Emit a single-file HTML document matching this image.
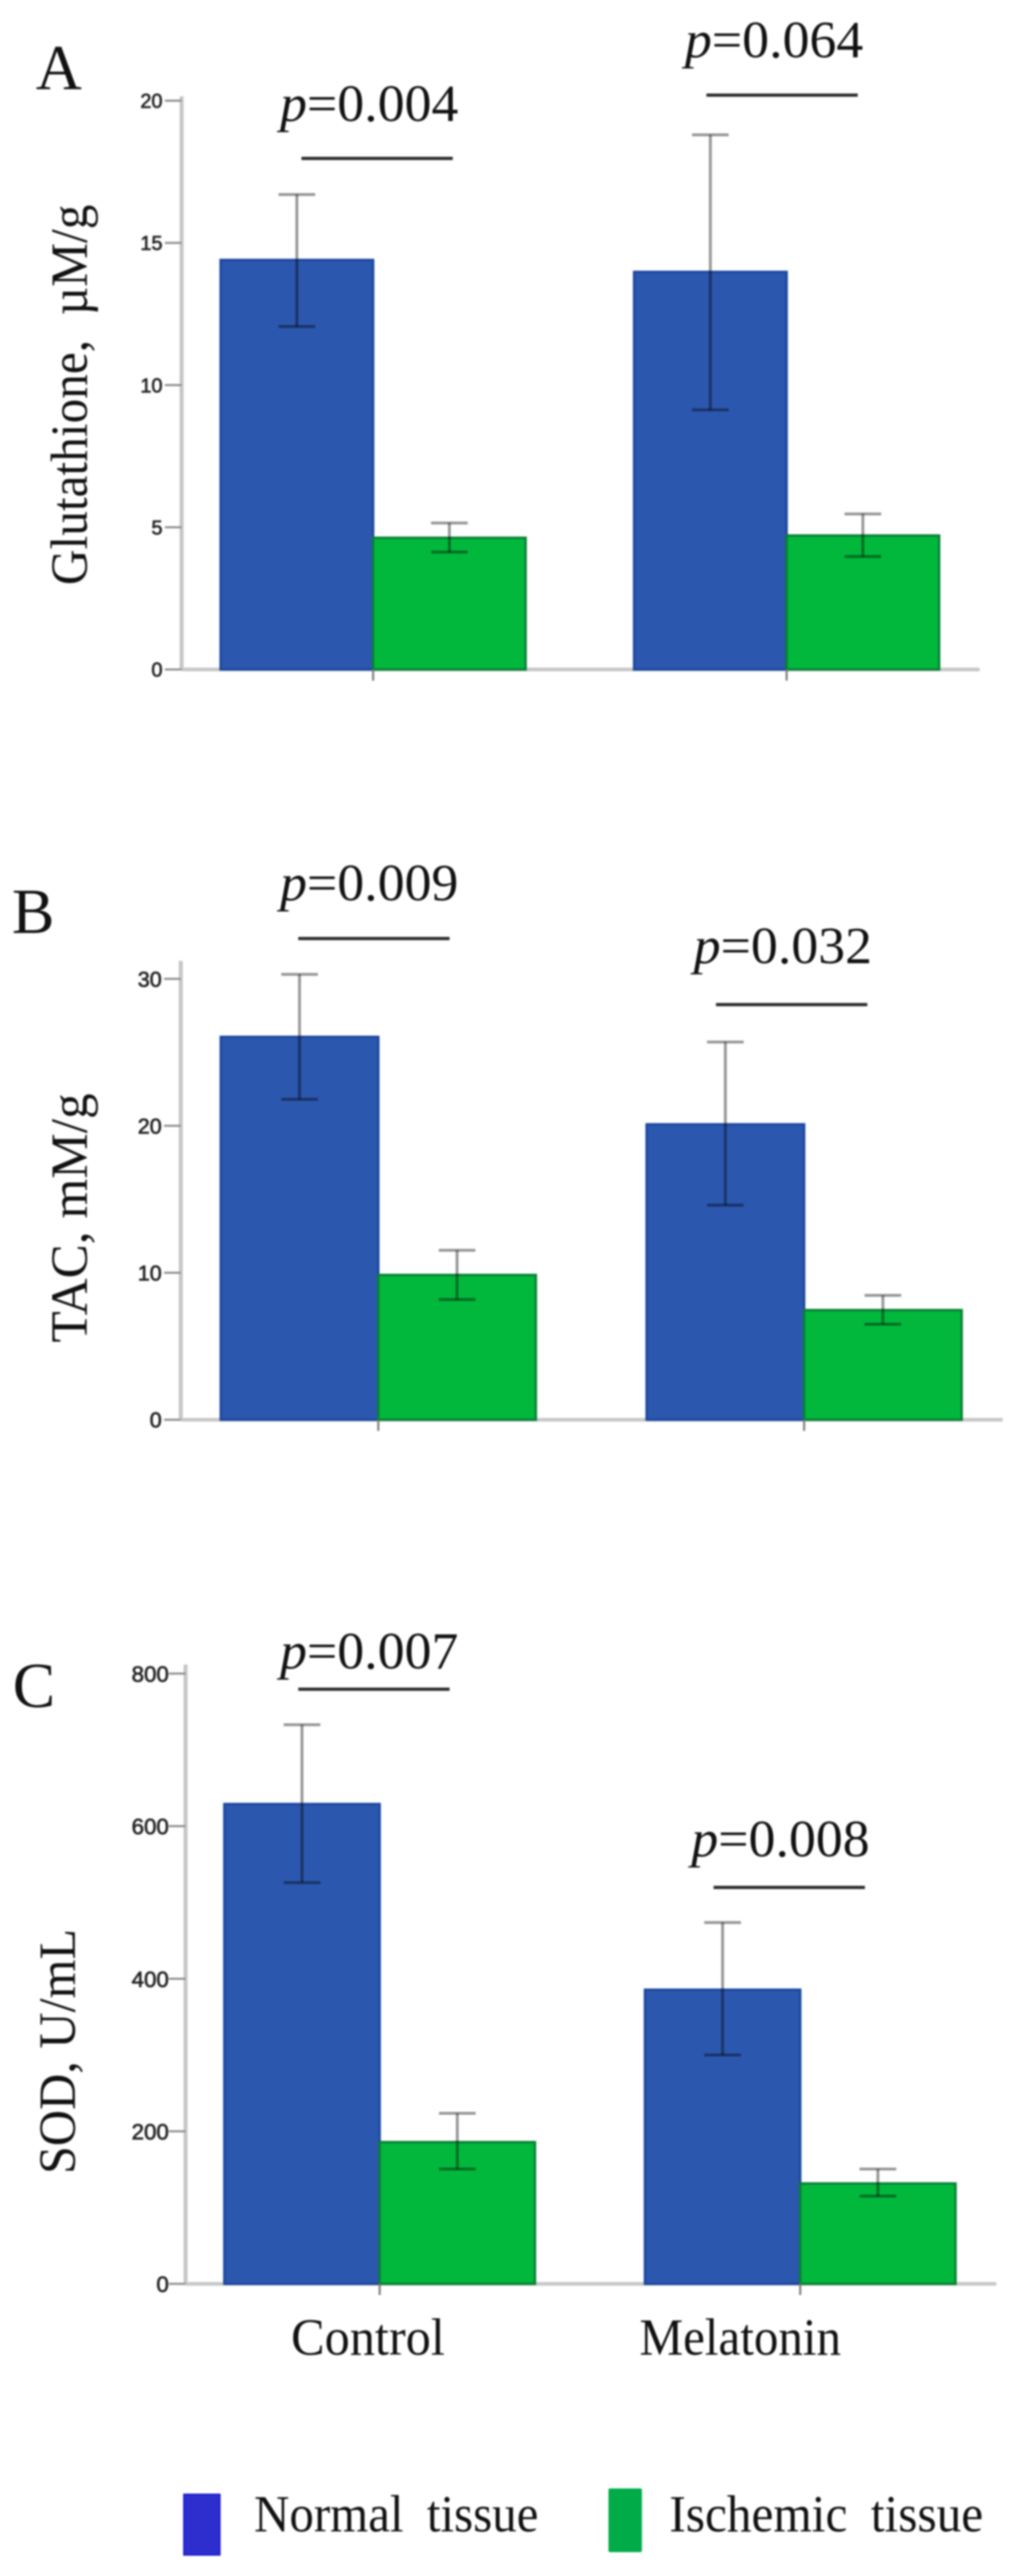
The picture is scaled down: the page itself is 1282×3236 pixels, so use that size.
<!DOCTYPE html>
<html lang="en">
<head>
<meta charset="utf-8">
<title>Glutathione, TAC and SOD in normal and ischemic tissue</title>
<style>
  html, body { margin: 0; padding: 0; background: #fff; width: 1282px; height: 3236px; overflow: hidden; }
  svg { display: block; filter: blur(1.1px); }
  .serif { font-family: "Liberation Serif", "Times New Roman", serif; fill: #111; }
  .sans { font-family: "Liberation Sans", Arial, sans-serif; fill: #222; stroke: #222; stroke-width: 0.8px; }
</style>
</head>
<body>
<svg id="figure" width="1282" height="3236" viewBox="0 0 1282 3236" xmlns="http://www.w3.org/2000/svg"></svg>
<script>
const categories = ['Control', 'Melatonin'];
const seriesNames = ['Normal tissue', 'Ischemic tissue'];

const glutathioneTicks = [0, 5, 10, 15, 20];
const glutathioneNormal = [14.4, 13.98];
const glutathioneIschemic = [4.63, 4.71];
const glutathioneNormalHigh = [16.7, 18.8];
const glutathioneNormalLow = [12.06, 9.13];
const glutathioneIschemicHigh = [5.15, 5.47];
const glutathioneIschemicLow = [4.13, 3.97];
const glutathionePValues = ['0.004', '0.064'];

const tacTicks = [0, 10, 20, 30];
const tacNormal = [26.05, 20.1];
const tacIschemic = [9.85, 7.46];
const tacNormalHigh = [30.3, 25.7];
const tacNormalLow = [21.8, 14.6];
const tacIschemicHigh = [11.53, 8.46];
const tacIschemicLow = [8.18, 6.5];
const tacPValues = ['0.009', '0.032'];

const sodTicks = [0, 200, 400, 600, 800];
const sodNormal = [629, 385.6];
const sodIschemic = [185.8, 131.6];
const sodNormalHigh = [733, 473.6];
const sodNormalLow = [526, 300];
const sodIschemicHigh = [223.6, 150.5];
const sodIschemicLow = [150.5, 115];
const sodPValues = ['0.007', '0.008'];

const SVG_NS = 'http://www.w3.org/2000/svg';
const figure = document.getElementById('figure');

function make(parent, tag, attrs, text) {
  const el = document.createElementNS(SVG_NS, tag);
  for (const k in attrs) el.setAttribute(k, attrs[k]);
  if (text !== undefined) el.textContent = text;
  parent.appendChild(el);
  return el;
}

function drawPanel(p) {
  const g = make(figure, 'g', {});
  
  

  const yScale = v => p.y0 - (v / p.ticks[p.ticks.length - 1]) * (p.y0 - p.yMaxPx);
  const groupX = i => p.group0 + i * p.groupStep;

  const letter = make(g, 'text', { x: p.letterX, y: p.letterY, class: 'serif', 'font-size': 80 }, p.letter);
  
  

  const title = make(g, 'text', {
    class: 'serif', 'font-size': 66, 'text-anchor': 'middle',
    transform: 'translate(' + p.titleX + ' ' + p.titleY + ') rotate(-90)',
    textLength: p.titleLen, lengthAdjust: 'spacingAndGlyphs'
  }, p.title);
  
  
  title.setAttribute('xml:space', 'preserve');
  title.style.whiteSpace = 'pre';

  const yAxis = make(g, 'line', { x1: p.axisX, x2: p.axisX, y1: p.axisTop, y2: p.y0, stroke: '#c6c6c6', 'stroke-width': 5 });
  
  

  const xAxis = make(g, 'line', { x1: p.axisX, x2: p.axisEnd, y1: p.y0, y2: p.y0, stroke: '#c6c6c6', 'stroke-width': 4.5 });
  
  

  p.ticks.forEach(t => {
    const mark = make(g, 'line', { x1: p.axisX - 21, x2: p.axisX, y1: yScale(t), y2: yScale(t), stroke: '#8a8a8a', 'stroke-width': 2.5 });
    
    
    const label = make(g, 'text', { x: p.axisX - p.tickGap, y: yScale(t) + p.tickFont * 0.36, class: 'sans', 'font-size': p.tickFont, 'text-anchor': 'end' }, String(t));
    
    
  });

  categories.forEach((cat, i) => {
    const cx = groupX(i);
    [
      { name: 'normal', vals: p.normal, hi: p.normalHigh, lo: p.normalLow, x: cx - p.barW, fill: '#2c57ae', edge: '#1b479f' },
      { name: 'ischemic', vals: p.ischemic, hi: p.ischemicHigh, lo: p.ischemicLow, x: cx, fill: '#02b83c', edge: '#077f33' }
    ].forEach(s => {
      const top = yScale(s.vals[i]);
      const bar = make(g, 'rect', { x: s.x, y: top, width: p.barW, height: p.y0 - top, fill: s.fill, stroke: s.edge, 'stroke-width': 3 });
      
      

      const ex = s.x + p.barW / 2;
      const err = make(g, 'g', { stroke: 'rgba(0,0,0,0.42)', 'stroke-width': 3.5 });
      
      
      make(err, 'line', { x1: ex, x2: ex, y1: yScale(s.hi[i]), y2: yScale(s.lo[i]) });
      make(err, 'line', { x1: ex - 23, x2: ex + 23, y1: yScale(s.hi[i]), y2: yScale(s.hi[i]) });
      make(err, 'line', { x1: ex - 23, x2: ex + 23, y1: yScale(s.lo[i]), y2: yScale(s.lo[i]) });
    });

    const xTick = make(g, 'line', { x1: cx, x2: cx, y1: p.y0, y2: p.y0 + 14, stroke: '#777', 'stroke-width': 2.5 });
    
    

    const sig = make(g, 'line', { x1: p.sigX[i], x2: p.sigX[i] + 190, y1: p.sigY[i], y2: p.sigY[i], stroke: '#2a2a2a', 'stroke-width': 4 });
    
    

    const pText = make(g, 'text', { x: p.pX[i], y: p.pY[i], class: 'serif', 'font-size': 66, textLength: 224, lengthAdjust: 'spacingAndGlyphs' });
    
    
    make(pText, 'tspan', { 'font-style': 'italic' }, 'p');
    make(pText, 'tspan', {}, '=' + p.pValues[i]);
  });
}

drawPanel({
  key: 'glutathione', letter: 'A', letterX: 45, letterY: 112,
  title: 'Glutathione,  \u00B5M/g', titleX: 109, titleY: 496, titleLen: 478,
  ticks: glutathioneTicks, tickFont: 25, tickGap: 24,
  normal: glutathioneNormal, ischemic: glutathioneIschemic,
  normalHigh: glutathioneNormalHigh, normalLow: glutathioneNormalLow,
  ischemicHigh: glutathioneIschemicHigh, ischemicLow: glutathioneIschemicLow,
  pValues: glutathionePValues,
  axisX: 228, axisTop: 121, axisEnd: 1230, y0: 841, yMaxPx: 126.5,
  group0: 468.5, groupStep: 519.2, barW: 191.5,
  sigX: [378.5, 887], sigY: [199, 119.5], pX: [351.6, 860], pY: [152, 72]
});

drawPanel({
  key: 'tac', letter: 'B', letterX: 15, letterY: 1172,
  title: 'TAC, mM/g', titleX: 109, titleY: 1530, titleLen: 313,
  ticks: tacTicks, tickFont: 27, tickGap: 24,
  normal: tacNormal, ischemic: tacIschemic,
  normalHigh: tacNormalHigh, normalLow: tacNormalLow,
  ischemicHigh: tacIschemicHigh, ischemicLow: tacIschemicLow,
  pValues: tacPValues,
  axisX: 227, axisTop: 1207, axisEnd: 1259, y0: 1783.5, yMaxPx: 1229.6,
  group0: 475, groupStep: 534.7, barW: 197.8,
  sigX: [374.5, 899], sigY: [1179, 1262], pX: [351.6, 871], pY: [1131, 1210]
});

drawPanel({
  key: 'sod', letter: 'C', letterX: 16, letterY: 2144,
  title: 'SOD, U/mL', titleX: 94, titleY: 2577, titleLen: 308,
  ticks: sodTicks, tickFont: 28, tickGap: 21,
  normal: sodNormal, ischemic: sodIschemic,
  normalHigh: sodNormalHigh, normalLow: sodNormalLow,
  ischemicHigh: sodIschemicHigh, ischemicLow: sodIschemicLow,
  pValues: sodPValues,
  axisX: 233, axisTop: 2091, axisEnd: 1251, y0: 2869, yMaxPx: 2102.4,
  group0: 476.7, groupStep: 528.1, barW: 195,
  sigX: [374.5, 896], sigY: [2122, 2371], pX: [351.6, 868], pY: [2096, 2332]
});

const categoryLabelX = [365.5, 803];
const categoryLabelWidth = [193, 253];
categories.forEach((cat, i) => {
  const label = make(figure, 'text', { x: categoryLabelX[i], y: 2958, class: 'serif', 'font-size': 66, textLength: categoryLabelWidth[i], lengthAdjust: 'spacingAndGlyphs' }, cat);
  
  
});

const legendGroup = make(figure, 'g', {});



const normalSwatch = make(legendGroup, 'rect', { x: 231, y: 3133.5, width: 45, height: 76, fill: '#2e2ecf', stroke: '#1a1acc', 'stroke-width': 2 });



const ischemicSwatch = make(legendGroup, 'rect', { x: 764, y: 3126, width: 42, height: 80, rx: 2, fill: '#00ab48' });



const normalLabel = make(legendGroup, 'text', { x: 319, y: 3180, class: 'serif', 'font-size': 66, 'word-spacing': 15, textLength: 357, lengthAdjust: 'spacingAndGlyphs' }, seriesNames[0]);



const ischemicLabel = make(legendGroup, 'text', { x: 840.5, y: 3180, class: 'serif', 'font-size': 66, 'word-spacing': 15, textLength: 394, lengthAdjust: 'spacingAndGlyphs' }, seriesNames[1]);


</script>
</body>
</html>
